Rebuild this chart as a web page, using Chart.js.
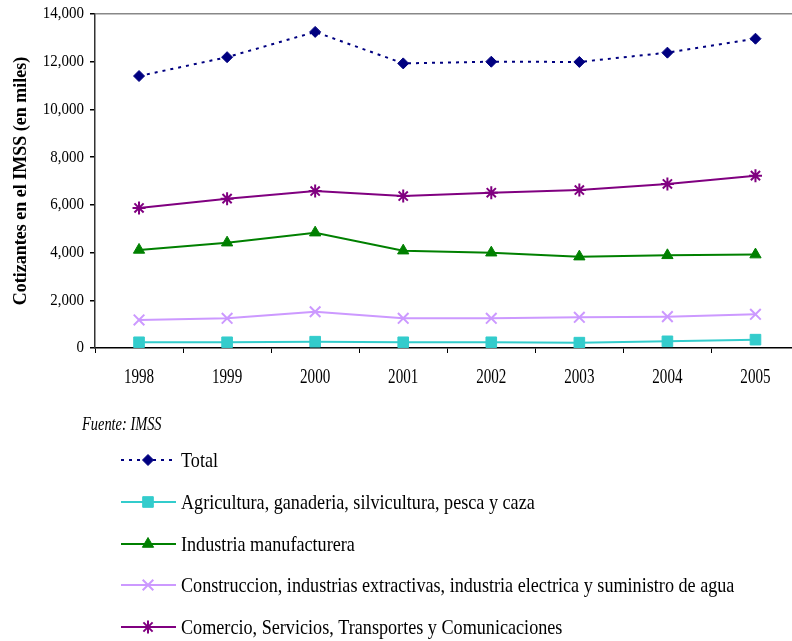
<!DOCTYPE html>
<html>
<head>
<meta charset="utf-8">
<script src="https://cdn.jsdelivr.net/npm/chart.js@4"></script>
<style>
html,body{margin:0;padding:0;background:#fff;overflow:hidden}
#wrap{position:absolute;left:0;top:0;width:809px;height:641px}
#chart{width:809px;height:641px}
</style>
</head>
<body>
<div id="wrap"><canvas id="chart" width="809" height="641"></canvas></div>
<script>
const years=['1998','1999','2000','2001','2002','2003','2004','2005']
const total=[11400,12190,13250,11930,12000,11990,12380,12965]
const agricultura=[240,240,265,240,240,225,280,350]
const industria=[4110,4415,4835,4080,3995,3830,3885,3915]
const construccion=[1175,1245,1520,1245,1245,1285,1315,1410]
const comercio=[5870,6260,6580,6370,6510,6620,6875,7225]
const yTicks=[0,2000,4000,6000,8000,10000,12000,14000]

const serif="'Liberation Serif','Times New Roman',serif"

// narrow text like the original (squeezed horizontally)
function narrowText(ctx,text,x,y,font,sx,align){
    ctx.save()
    ctx.font=font
    ctx.textAlign=align||'left'
    ctx.textBaseline='middle'
    ctx.translate(x,y)
    ctx.scale(sx,1)
    ctx.fillText(text,0,0)
    ctx.restore()
}

const tickLabelPlugin={
    id:'tickLabels',
    afterDraw(chart){
        const ctx=chart.ctx
        ctx.fillStyle='#000'
        const ys=chart.scales.y
        ys.ticks.forEach(t=>{
            narrowText(ctx,t.value.toLocaleString('en-US'),84,ys.getPixelForValue(t.value),'17px '+serif,0.88,'right')
        })
        const xs=chart.scales.x
        chart.data.labels.forEach((l,i)=>{
            narrowText(ctx,l,xs.getPixelForValue(i),377,'21px '+serif,0.72,'center')
        })
    }
}

// legend drawn under the plot, one row per series
const legendRows=[460,502,544,585,627]
const legendPlugin={
    id:'sideLegend',
    afterDraw(chart){
        const ctx=chart.ctx
        ctx.save()
        ctx.fillStyle='#000'
        narrowText(ctx,'Fuente: IMSS',82,425,'italic 18px '+serif,0.8)
        chart.data.datasets.forEach((ds,i)=>{
            const y=legendRows[i]
            ctx.strokeStyle=ds.borderColor
            ctx.lineWidth=ds.borderWidth
            ctx.setLineDash(ds.borderDash||[])
            ctx.beginPath()
            ctx.moveTo(121,y)
            ctx.lineTo(176,y)
            ctx.stroke()
            ctx.setLineDash([])
            ctx.fillStyle=ds.pointBackgroundColor
            ctx.strokeStyle=ds.pointBorderColor
            ctx.lineWidth=ds.pointBorderWidth
            Chart.helpers.drawPoint(ctx,{pointStyle:ds.pointStyle,radius:ds.pointRadius,rotation:0,borderWidth:ds.pointBorderWidth},148,y)
            ctx.fillStyle='#000'
            narrowText(ctx,ds.label,181,y+1,'22px '+serif,0.825)
        })
        ctx.restore()
    }
}

function series(label,data,color,style,radius,extra){
    return Object.assign({
        label:label,
        data:data,
        borderColor:color,
        backgroundColor:color,
        borderWidth:2,
        pointStyle:style,
        pointRadius:radius,
        pointHoverRadius:radius,
        pointBackgroundColor:color,
        pointBorderColor:color,
        pointBorderWidth:1,
        tension:0
    },extra||{})
}

new Chart(document.getElementById('chart'),{
    type:'line',
    data:{
        labels:years,
        datasets:[
            series('Total',total,'#000080','rectRot',5.5,{borderDash:[3,5]}),
            series('Agricultura, ganaderia, silvicultura, pesca y caza',agricultura,'#33CCCC','rect',7.5),
            series('Industria manufacturera',industria,'#008000','triangle',6.5),
            series('Construccion, industrias extractivas, industria electrica y suministro de agua',construccion,'#CC99FF','crossRot',7.5,{pointBorderWidth:2}),
            series('Comercio, Servicios, Transportes y Comunicaciones',comercio,'#800080','star',6.5,{pointBorderWidth:2})
        ]
    },
    options:{
        responsive:false,
        animation:false,
        layout:{padding:{top:14,right:1,bottom:256,left:0}},
        plugins:{legend:{display:false},tooltip:{enabled:false}},
        scales:{
            x:{
                offset:true,
                afterFit(scale){scale.height=37},
                border:{color:'#000',width:1.5},
                grid:{offset:true,drawOnChartArea:false,tickLength:5,tickColor:'#000'},
                ticks:{display:false}
            },
            y:{
                min:0,max:14000,
                afterBuildTicks(scale){scale.ticks=yTicks.map(v=>({value:v}))},
                afterFit(scale){scale.width=95},
                border:{color:'#333',width:1.5},
                grid:{
                    drawOnChartArea:true,
                    color:c=>c.tick&&c.tick.value===14000?'#888':'rgba(0,0,0,0)',
                    tickColor:'#000',tickLength:5,lineWidth:1.5
                },
                ticks:{display:false},
                title:{display:true,text:'Cotizantes en el IMSS (en miles)',color:'#000',
                    font:{family:serif,size:18,weight:'bold'},padding:{top:11,bottom:0}}
            }
        }
    },
    plugins:[tickLabelPlugin,legendPlugin]
})
</script>
</body>
</html>
